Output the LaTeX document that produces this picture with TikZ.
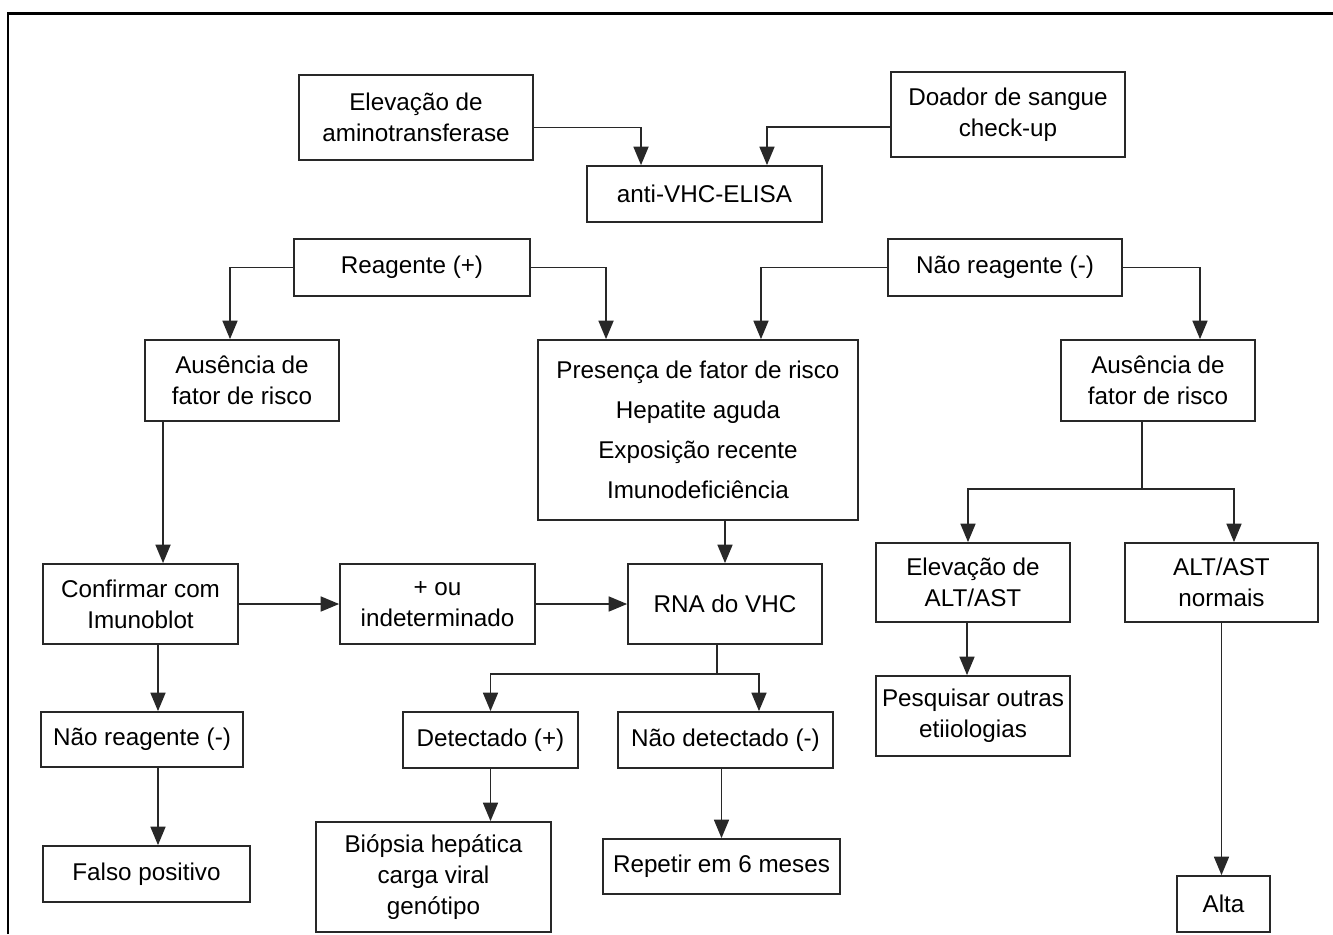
\documentclass[tikz,border=0pt]{standalone}
\usepackage{fontspec}
\setmainfont{Liberation Sans}
\usepackage{tikz}
\usetikzlibrary{calc,arrows.meta,positioning}
\definecolor{edge}{RGB}{40,40,40}

\begin{document}
\begin{tikzpicture}[x=0.02cm,y=-0.02cm,
    box/.style={draw=edge,line width=0.035cm,inner sep=0pt,align=center,font=\fontsize{13.8}{17.6}\selectfont},
    link/.style={draw=edge,line width=0.035cm},
    arr/.style={link,-{Triangle[length=0.37cm,width=0.3cm]}}]
    \useasboundingbox (0,0) rectangle (1333,934);
    \draw[line width=0.06cm] (8,934) -- (8,13) -- (1333,13);
    % top row
    \node[box,minimum width=4.68cm,minimum height=1.70cm] (elev) at (416,117.5){Elevação de\\aminotransferase};
    \node[box,minimum width=4.68cm,minimum height=1.70cm] (doador) at (1008,114.5){Doador de sangue\\check-up};
    \node[box,minimum width=4.70cm,minimum height=1.12cm] (elisa) at (704.5,194){anti-VHC-ELISA};
    \node[box,minimum width=4.72cm,minimum height=1.14cm] (reag) at (412,267.5){Reagente (+)};
    \node[box,minimum width=4.68cm,minimum height=1.14cm] (naoreag) at (1005,267.5){Não reagente (-)};
    % risk boxes
    \node[box,minimum width=3.88cm,minimum height=1.62cm] (ausL) at (242,380.5){Ausência de\\fator de risco};
    \node[box,minimum width=6.40cm,minimum height=3.60cm,font=\fontsize{13.8}{22.8}\selectfont] (pres) at (698,430)
      {Presença de fator de risco\\Hepatite aguda\\Exposição recente\\Imunodeficiência};
    \node[box,minimum width=3.88cm,minimum height=1.62cm] (ausR) at (1158,380.5){Ausência de\\fator de risco};
    % middle row
    \node[box,minimum width=3.90cm,minimum height=1.60cm] (conf) at (140.5,604){Confirmar com\\Imunoblot};
    \node[box,minimum width=3.90cm,minimum height=1.60cm] (ou) at (437.5,604){+ ou\\indeterminado};
    \node[box,minimum width=3.88cm,minimum height=1.60cm] (rna) at (725,604){RNA do VHC};
    \node[box,minimum width=3.88cm,minimum height=1.58cm] (elevALT) at (973,582.5){Elevação de\\ALT/AST};
    \node[box,minimum width=3.86cm,minimum height=1.58cm] (altnorm) at (1221.5,582.5){ALT/AST\\normais};
    \node[box,minimum width=3.88cm,minimum height=1.60cm] (pesq) at (973,716){Pesquisar outras\\etiiologias};
    % lower rows
    \node[box,minimum width=4.04cm,minimum height=1.10cm] (naoreagL) at (142,739.5){Não reagente (-)};
    \node[box,minimum width=3.50cm,minimum height=1.12cm] (detect) at (490.5,740){Detectado (+)};
    \node[box,minimum width=4.30cm,minimum height=1.12cm] (naodet) at (725.5,740){Não detectado (-)};
    \node[box,minimum width=4.14cm,minimum height=1.12cm] (falso) at (146.5,874){Falso positivo};
    \node[box,minimum width=4.70cm,minimum height=2.20cm] (biopsia) at (433.5,877){Biópsia hepática\\carga viral\\genótipo};
    \node[box,minimum width=4.74cm,minimum height=1.10cm] (repetir) at (721.5,866.5){Repetir em 6 meses};
    \node[box,minimum width=1.86cm,minimum height=1.12cm] (alta) at (1223.5,904){Alta};
    % connectors
    \draw[arr] ([yshift=-0.2cm]elev.east) -| ([xshift=-1.27cm]elisa.north);
    \draw[arr] ([yshift=-0.25cm]doador.west) -| ([xshift=1.25cm]elisa.north);
    \draw[arr] (reag.west) -| ([xshift=-0.24cm]ausL.north);
    \draw[arr] (reag.east) -| ([xshift=-1.84cm]pres.north);
    \draw[arr] (naoreag.west) -| ([xshift=1.26cm]pres.north);
    \draw[arr] (naoreag.east) -| ([xshift=0.84cm]ausR.north);
    \draw[arr] ([xshift=-1.58cm]ausL.south) -- ([xshift=-1.58cm]ausL.south |- conf.north);
    \draw[arr] (rna.north |- pres.south) -- (rna.north);
    \draw[arr] (conf) -- (ou);
    \draw[arr] (ou) -- (rna);
    \draw[arr] ([xshift=0.35cm]conf.south) -- ([xshift=0.35cm]conf.south |- naoreagL.north);
    \draw[arr] ([xshift=0.32cm]naoreagL.south) -- ([xshift=0.32cm]naoreagL.south |- falso.north);
    \coordinate (rnaFork) at (717,674);
    \draw[link] (rnaFork |- rna.south) -- (rnaFork);
    \draw[arr] (rnaFork) -| (detect.north);
    \draw[arr] (rnaFork) -| ([xshift=0.67cm]naodet.north);
    \draw[arr] (detect.south) -- (detect.south |- biopsia.north);
    \draw[arr] (repetir.north |- naodet.south) -- (repetir.north);
    \coordinate (ausFork) at (1142,489);
    \draw[link] (ausFork |- ausR.south) -- (ausFork);
    \draw[arr] (ausFork) -| ([xshift=-0.1cm]elevALT.north);
    \draw[arr] (ausFork) -| ([xshift=0.25cm]altnorm.north);
    \draw[arr] ([xshift=-0.12cm]elevALT.south) -- ([xshift=-0.12cm]elevALT.south |- pesq.north);
    \draw[arr] (altnorm.south) -- (altnorm.south |- alta.north);
\end{tikzpicture}
\end{document}
